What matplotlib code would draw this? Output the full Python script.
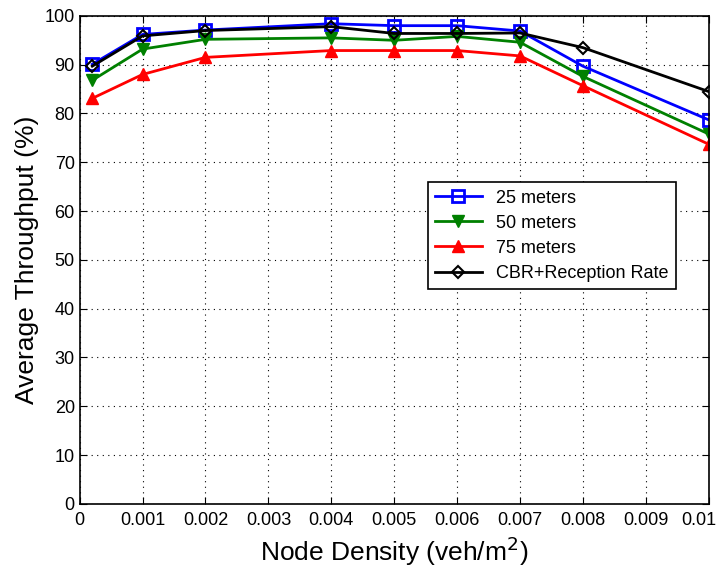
import matplotlib
matplotlib.use("Agg")
import matplotlib.pyplot as plt
import matplotlib.transforms as mtransforms
from matplotlib.ticker import MultipleLocator

plt.rcParams["font.family"] = ["Liberation Sans", "DejaVu Sans"]

density = [0.0002, 0.001, 0.002, 0.004, 0.005, 0.006, 0.007, 0.008, 0.01]
thr_25m = [90.1, 96.2, 97.1, 98.4, 98.0, 98.0, 96.9, 89.7, 78.7]
thr_50m = [86.8, 93.2, 95.2, 95.5, 95.0, 95.8, 94.6, 87.6, 75.8]
thr_75m = [83.1, 88.0, 91.5, 92.9, 92.9, 92.9, 91.8, 85.7, 73.7]
thr_cbr = [89.7, 95.9, 97.0, 97.8, 96.4, 96.4, 96.5, 93.5, 84.5]

x_ticks = [0, 0.001, 0.002, 0.003, 0.004, 0.005, 0.006, 0.007, 0.008, 0.009, 0.01]
x_tick_labels = ["0", "0.001", "0.002", "0.003", "0.004", "0.005",
                 "0.006", "0.007", "0.008", "0.009", "0.01"]

fig = plt.figure(figsize=(7.18, 5.68), dpi=100)
ax = fig.add_axes([0.111, 0.113, 0.876, 0.859])

ax.plot(density, thr_25m, color="#0000ff", lw=2, marker="s", ms=8,
        mfc="none", mec="#0000ff", mew=2, label="25 meters")
ax.plot(density, thr_50m, color="#008000", lw=2, marker="v", ms=9,
        mfc="#008000", mec="#008000", label="50 meters")
ax.plot(density, thr_75m, color="#ff0000", lw=2, marker="^", ms=9,
        mfc="#ff0000", mec="#ff0000", label="75 meters")
ax.plot(density, thr_cbr, color="black", lw=2, marker="D", ms=6,
        mfc="none", mec="black", mew=1.5, label="CBR+Reception Rate")

ax.set_xlim(0, 0.01)
ax.set_ylim(0, 100)
ax.set_xticks(x_ticks, x_tick_labels)
ax.yaxis.set_major_locator(MultipleLocator(10))
ax.tick_params(direction="in", top=True, right=True, labelsize=13, length=5)
ax.tick_params(axis="x", pad=6)
ax.grid(True, color="black", linestyle=(0, (1, 4)), linewidth=0.8)
for s in ax.spines.values():
    s.set_linewidth(1.2)

# last tick label sits at the figure edge; nudge it in a little
last = ax.get_xticklabels()[-1]
last.set_transform(last.get_transform() +
                   mtransforms.ScaledTranslation(-7 / 72, 0, fig.dpi_scale_trans))

ax.set_xlabel("Node Density (veh/m$^2$)", fontsize=19)
ax.set_ylabel("Average Throughput (%)", fontsize=19)

leg = ax.legend(loc="lower left", bbox_to_anchor=(0.553, 0.44), fontsize=13,
                fancybox=False, framealpha=1, edgecolor="black",
                handlelength=2.6, borderpad=0.4, labelspacing=0.45,
                borderaxespad=0)
leg.get_frame().set_linewidth(1.2)

fig.savefig("out.png", dpi=100)
